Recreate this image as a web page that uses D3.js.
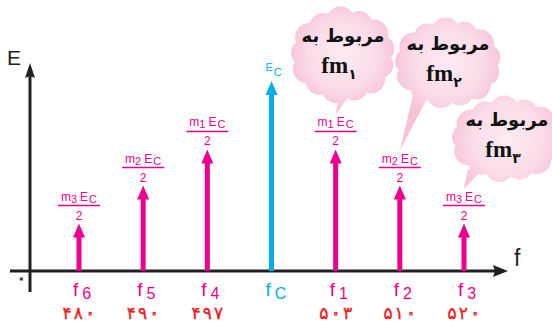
<!DOCTYPE html>
<html>
<head>
<meta charset="utf-8">
<script src="https://cdn.jsdelivr.net/npm/d3@7"></script>
<style>
  body { margin: 0; background: #fff; }
  svg { display: block; }
</style>
</head>
<body>
<svg id="chart"></svg>
<script>
const width = 552;
const height = 325;

// spectrum lines, left to right
const subscripts = ['6', '5', '4', 'C', '1', '2', '3'];
const freqLabels = ['۴۸۰', '۴۹۰', '۴۹۷', '', '۵۰۳', '۵۱۰', '۵۲۰'];
const amplitudes = [0.25, 0.45, 0.64, 1, 0.64, 0.45, 0.25];
const modIndex = ['3', '2', '1', '', '1', '2', '3'];

// speech clouds over f1, f2, f3
const cloudTargets = [4, 5, 6];
const cloudLine1 = ['مربوط به', 'مربوط به', 'مربوط به'];
const cloudSubs = ['۱', '۲', '۳'];

const pink = '#EC008C';
const cyan = '#00AEEF';
const red = '#ED1C24';
const ink = '#231F20';

const svg = d3.select('#chart')
  .attr('width', width)
  .attr('height', height);

const x = d3.scalePoint()
  .domain(d3.range(subscripts.length))
  .range([79, 464]);

const y = d3.scaleLinear()
  .domain([0, 1])
  .range([271, 81]);

const defs = svg.append('defs');

// persian digits: the zero is outlined so it reads as a small ring like the print font
function persianDigits(sel, color, size) {
  sel.each(function(str) {
    const t = d3.select(this);
    Array.from(str).forEach((ch, j) => {
      const sp = t.append('tspan').text(ch);
      if (ch === '۰') {
        sp.attr('fill', '#fff')
          .attr('stroke', color)
          .attr('stroke-width', 1.1)
          .attr('stroke-linejoin', 'round')
          .attr('font-size', size * 1.15);
      } else {
        sp.attr('fill', color)
          .attr('stroke', color)
          .attr('stroke-width', 0.4)
          .attr('font-size', size);
      }
      if (j > 0) sp.attr('dx', 2);
    });
  });
}

// ---- clouds (drawn first, behind everything)
const cloudLayout = [
  {cx: 343, cy: 55, rx: 52, ry: 47, base: [340, 352]},
  {cx: 448, cy: 63, rx: 53, ry: 44, base: [413, 428]},
  {cx: 507, cy: 139, rx: 55, ry: 42, base: [468, 482]}
];

cloudLayout.forEach((c, k) => {
  const g = defs.append('radialGradient')
    .attr('id', 'cloudGrad' + k)
    .attr('gradientUnits', 'userSpaceOnUse')
    .attr('cx', c.cx).attr('cy', c.cy)
    .attr('r', Math.max(c.rx, c.ry) + 4);
  g.append('stop').attr('offset', '0%').attr('stop-color', '#FDEBF3');
  g.append('stop').attr('offset', '60%').attr('stop-color', '#FBDCE9');
  g.append('stop').attr('offset', '100%').attr('stop-color', '#F6C2D8');
});

const clouds = svg.append('g');

cloudTargets.forEach((idx, k) => {
  const c = cloudLayout[k];
  const grp = clouds.append('g').attr('fill', `url(#cloudGrad${k})`);
  const tipX = x(idx);
  const tipY = y(amplitudes[idx]) - 35;
  grp.append('path')
    .attr('d', `M${c.base[0]},${c.cy + c.ry - 12}L${c.base[1]},${c.cy + c.ry - 10}L${tipX},${tipY}Z`);
  grp.append('ellipse')
    .attr('cx', c.cx).attr('cy', c.cy)
    .attr('rx', c.rx - 8).attr('ry', c.ry - 8);
  const n = 13;
  const br = 13;
  for (let j = 0; j < n; j++) {
    const a = j / n * Math.PI * 2 + 0.3;
    grp.append('circle')
      .attr('cx', c.cx + Math.cos(a) * (c.rx - br))
      .attr('cy', c.cy + Math.sin(a) * (c.ry - br))
      .attr('r', br + (j % 2) * 1.5);
  }
  grp.append('text')
    .attr('x', c.cx)
    .attr('y', c.cy - 13)
    .attr('text-anchor', 'middle')
    .attr('fill', '#111')
    .attr('font-family', 'DejaVu Sans')
    .attr('font-weight', 'bold')
    .attr('font-size', 18)
    .text(cloudLine1[k]);
  const t2 = grp.append('text')
    .attr('x', c.cx - 4)
    .attr('y', c.cy + 18)
    .attr('text-anchor', 'middle')
    .attr('fill', '#111')
    .attr('font-family', 'Liberation Serif')
    .attr('font-weight', 'bold')
    .attr('font-size', 23);
  t2.append('tspan').text('fm');
  t2.append('tspan')
    .attr('dy', 6)
    .attr('font-size', 14)
    .attr('font-family', 'DejaVu Sans')
    .text(cloudSubs[k]);
});

// ---- axes
const axes = svg.append('g');
axes.append('line')
  .attr('x1', 10).attr('x2', 496)
  .attr('y1', y(0)).attr('y2', y(0))
  .attr('stroke', ink).attr('stroke-width', 3);
axes.append('path')
  .attr('d', `M508,${y(0)}L493,${y(0) - 6}L495,${y(0)}L493,${y(0) + 6}Z`)
  .attr('fill', ink);
axes.append('line')
  .attr('x1', 30).attr('x2', 30)
  .attr('y1', 292).attr('y2', 74)
  .attr('stroke', ink).attr('stroke-width', 3);
axes.append('path')
  .attr('d', 'M30,63L25,78L30,76L35,78Z')
  .attr('fill', ink);

axes.append('text')
  .attr('x', 7).attr('y', 65)
  .attr('font-family', 'Liberation Sans')
  .attr('font-size', 21)
  .attr('fill', ink)
  .text('E');
axes.append('text')
  .attr('x', 514).attr('y', 266)
  .attr('font-family', 'Liberation Sans')
  .attr('font-size', 23)
  .attr('fill', ink)
  .text('f');
axes.append('text')
  .datum('۰')
  .attr('x', 17).attr('y', 284)
  .attr('font-family', 'DejaVu Sans')
  .call(persianDigits, ink, 14);

// ---- spectrum lines
const lines = svg.append('g')
  .selectAll('g')
  .data(amplitudes.map((a, i) => ({i, a})))
  .join('g')
  .attr('fill', d => d.i === 3 ? cyan : pink);

lines.append('rect')
  .attr('x', d => x(d.i) - 2.5)
  .attr('width', 5)
  .attr('y', d => y(d.a) + 10)
  .attr('height', d => y(0) - y(d.a) - 10);

lines.append('path')
  .attr('d', d => {
    const cx = x(d.i), ty = y(d.a);
    return `M${cx},${ty}L${cx + 6},${ty + 14}L${cx - 6},${ty + 14}Z`;
  });

// f labels
const fLab = lines.append('text')
  .attr('x', d => x(d.i) - 6)
  .attr('y', 296)
  .attr('font-family', 'Liberation Sans')
  .attr('font-size', 19);
fLab.append('tspan').text('f');
fLab.append('tspan')
  .attr('dx', 4)
  .attr('dy', 3)
  .attr('font-size', 16)
  .text(d => subscripts[d.i]);

// frequency values
lines.append('text')
  .datum(d => freqLabels[d.i])
  .attr('x', (d, i) => x(i))
  .attr('y', 319)
  .attr('text-anchor', 'middle')
  .attr('font-family', 'DejaVu Sans')
  .call(persianDigits, red, 17);

// amplitude fractions m E_C / 2
const side = lines.filter(d => d.i !== 3);
side.append('line')
  .attr('x1', d => x(d.i) - 21).attr('x2', d => x(d.i) + 21)
  .attr('y1', d => y(d.a) - 18).attr('y2', d => y(d.a) - 18)
  .attr('stroke', pink).attr('stroke-width', 1.5);
side.append('text')
  .attr('x', d => x(d.i))
  .attr('y', d => y(d.a) - 4)
  .attr('text-anchor', 'middle')
  .attr('font-family', 'Liberation Sans')
  .attr('font-size', 12)
  .text('2');
const num = side.append('text')
  .attr('x', d => x(d.i))
  .attr('y', d => y(d.a) - 23)
  .attr('text-anchor', 'middle')
  .attr('font-family', 'Liberation Sans')
  .attr('font-size', 12);
num.append('tspan').text('m');
num.append('tspan').attr('dy', 2).attr('font-size', 11).text(d => modIndex[d.i]);
num.append('tspan').attr('dx', 3).attr('dy', -2).text('E');
num.append('tspan').attr('dx', 1).attr('dy', 2).attr('font-size', 11).text('C');

// carrier label E_C
const car = lines.filter(d => d.i === 3)
  .append('text')
  .attr('x', d => x(d.i) - 6)
  .attr('y', d => y(d.a) - 10)
  .attr('font-family', 'Liberation Sans')
  .attr('font-size', 11);
car.append('tspan').text('E');
car.append('tspan').attr('dx', 1).attr('dy', 5).attr('font-size', 11).text('C');
</script>
</body>
</html>
